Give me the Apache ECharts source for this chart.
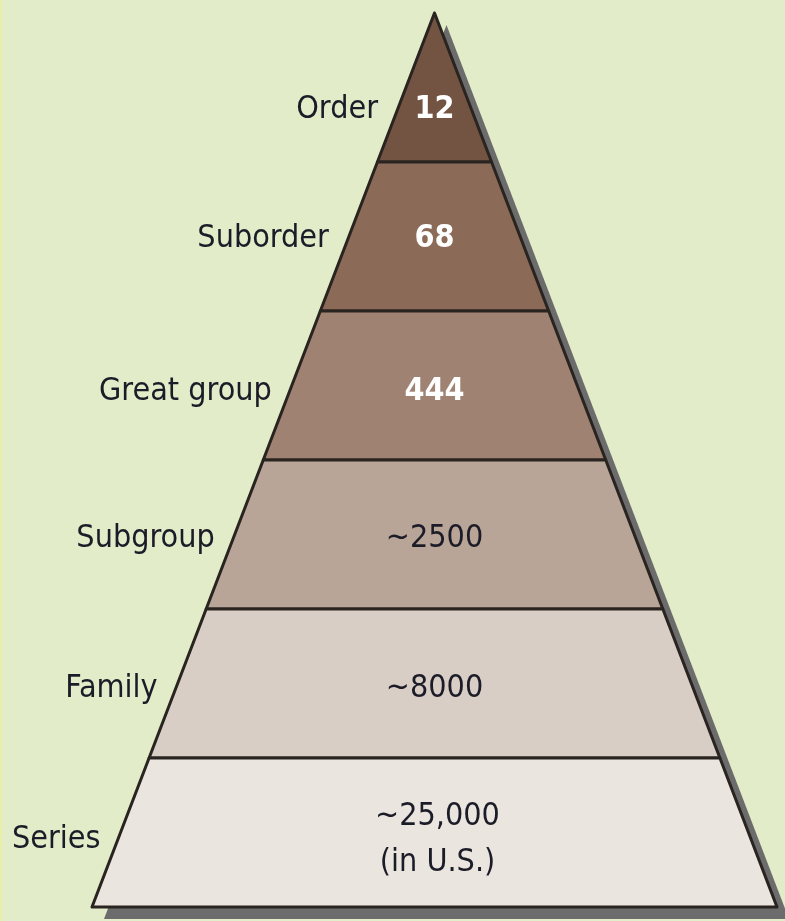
<!DOCTYPE html>
<html>
<head>
<meta charset="utf-8">
<script src="https://cdn.jsdelivr.net/npm/echarts@6/dist/echarts.min.js"></script>
<style>
html,body{margin:0;padding:0;background:#e2ecc8;}
#chart{width:785px;height:921px;}
#edge{position:absolute;left:0;top:0;width:1px;height:921px;background:#f2f28c;}
</style>
</head>
<body>
<div id="chart"></div>
<div id="edge"></div>
<script>
// soil taxonomy levels, top of pyramid first
var levels=['Order','Suborder','Great group','Subgroup','Family','Series'];
var counts=['12','68','444','~2500','~8000','~25,000\n(in U.S.)'];
// tier rank sets the pyramid width (schematic, not the count)
var rank=[1,2,3,4,5,6];
var tierColors=['#735443','#8b6a57','#a08272','#b8a597','#d8cec5','#ebe5df'];
var lightText=[true,true,true,false,false,false];
// small vertical nudges of the text in each tier (px)
var labelShift=[22,2,6,4,5,7];

var font='"Liberation Sans Narrow","DejaVu Sans Condensed",sans-serif';

var box={left:92,top:13,width:685,height:894};

function tierData(kind){
	var arr=[];
	for(var i=0;i<levels.length;i++){
		var item={name:levels[i],value:rank[i]};
		if(kind=='value'){
			item.itemStyle={color:tierColors[i]};
			item.label={
				formatter:counts[i],
				color:lightText[i]?'#ffffff':'#1c1c28',
				fontWeight:lightText[i]?'bold':'normal'
			};
		}
		arr.push(item);
	}
	return arr;
}

var chart=echarts.init(document.getElementById('chart'));
var option={
	backgroundColor:'#e2ecc8',
	animation:false,
	series:[
		{
			// drop shadow
			type:'funnel',
			left:box.left+12,top:box.top+12,width:box.width,height:box.height,
			min:0,max:6,minSize:0,maxSize:'100%',
			sort:'ascending',gap:0,silent:true,
			label:{show:false},labelLine:{show:false},
			itemStyle:{color:'#6c6c6c',borderWidth:0},
			emphasis:{disabled:true},
			data:tierData('none')
		},
		{
			type:'funnel',
			left:box.left,top:box.top,width:box.width,height:box.height,
			min:0,max:6,minSize:0,maxSize:'100%',
			sort:'ascending',gap:0,silent:true,
			label:{
				show:true,position:'inside',
				fontFamily:font,fontSize:32,lineHeight:46
			},
			labelLine:{show:false},
			labelLayout:function(p){
				return {dy:labelShift[p.dataIndex],dx:p.dataIndex==5?3:0};
			},
			itemStyle:{borderColor:'#2a2420',borderWidth:3},
			emphasis:{disabled:true},
			data:tierData('value')
		},
		{
			// names on the left side
			type:'funnel',
			left:box.left,top:box.top,width:box.width,height:box.height,
			min:0,max:6,minSize:0,maxSize:'100%',
			sort:'ascending',gap:0,silent:true,
			label:{
				show:true,position:'left',
				fontFamily:font,fontSize:32,color:'#1c1c28'
			},
			labelLine:{show:false,length:15},
			labelLayout:function(p){
				return {dy:labelShift[p.dataIndex],dx:p.dataIndex==0?-8:0};
			},
			itemStyle:{color:'rgba(0,0,0,0)',borderWidth:0},
			emphasis:{disabled:true},
			data:tierData('name')
		}
	]
};
chart.setOption(option);
</script>
</body>
</html>
